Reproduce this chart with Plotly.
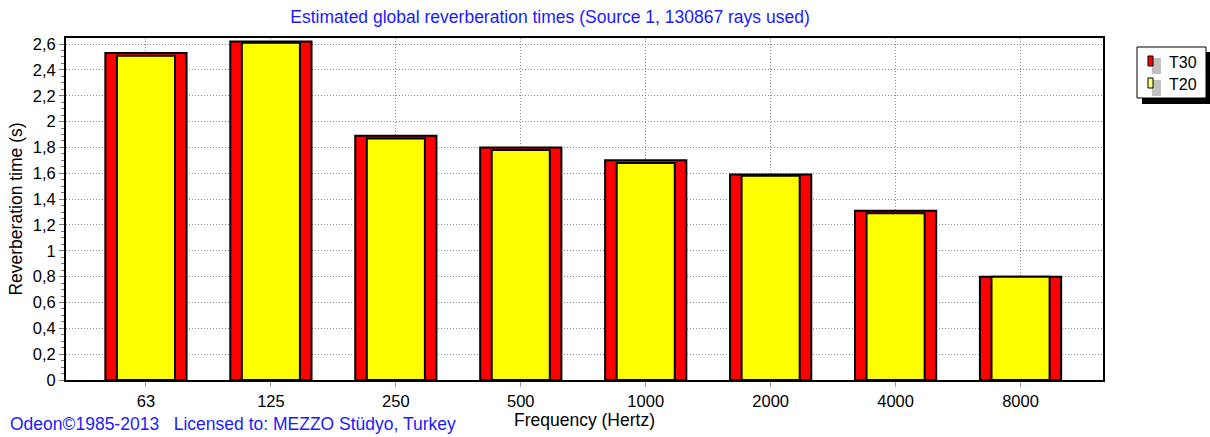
import plotly.graph_objects as go

frequencies = ["63", "125", "250", "500", "1000", "2000", "4000", "8000"]
t30_values = [2.53, 2.62, 1.89, 1.80, 1.70, 1.59, 1.31, 0.80]
t20_values = [2.51, 2.61, 1.87, 1.78, 1.68, 1.58, 1.29, 0.80]
series_names = ["T30", "T20"]
series_colors = ["#ff0000", "#ffff00"]
legend_swatch_colors = ["#ff0000", "#ffff80"]

W, H = 1210, 437
L, R, T, B = 66, 107, 38, 57
PW, PH = W - L - R, H - T - B


def px(x):
    return (x - L) / PW


def py(y):
    return (H - B - y) / PH


fig = go.Figure()
for name, vals, col, wd in zip(series_names, [t30_values, t20_values], series_colors, [0.65, 0.465]):
    fig.add_trace(go.Bar(
        x=frequencies, y=vals, name=name, width=wd,
        marker=dict(color=col, line=dict(color="black", width=2)),
        showlegend=False,
    ))

font = "Liberation Sans, Arial, sans-serif"
grid = dict(showgrid=True, gridcolor="#8a8a8a", griddash="1px,2px", gridwidth=1)

fig.update_layout(
    width=W, height=H,
    margin=dict(l=L, r=R, t=T, b=B, pad=0, autoexpand=False),
    paper_bgcolor="white", plot_bgcolor="white",
    barmode="overlay",
    separators=",.",
    font=dict(family=font, size=17, color="black"),
    title=dict(
        text="Estimated global reverberation times (Source 1, 130867 rays used)",
        x=550 / W, xanchor="center", xref="container",
        y=1 - 17 / H, yanchor="middle", yref="container",
        font=dict(family=font, size=17.5, color="#1a1aff"),
    ),
    xaxis=dict(
        type="category", range=[-0.64, 7.66],
        **grid,
        showline=True, linecolor="black", linewidth=2, mirror=True,
        ticks="outside", ticklen=5, tickcolor="#999999",
        tickfont=dict(size=16.5),
        title=dict(text="Frequency (Hertz)", font=dict(size=17.5), standoff=0),
    ),
    yaxis=dict(
        range=[0, 2.647], dtick=0.2, tick0=0,
        **grid,
        showline=True, linecolor="black", linewidth=2, mirror=True,
        ticks="outside", ticklen=5, tickcolor="#777777",
        minor=dict(dtick=0.05, ticks="outside", ticklen=3, tickcolor="#777777", showgrid=False),
        tickfont=dict(size=16.5),
        title=dict(text="Reverberation time (s)", font=dict(size=17.5), standoff=6),
        zeroline=False,
    ),
    showlegend=False,
)

# manual legend: shadow, box, swatches, labels
fig.add_shape(type="rect", xref="paper", yref="paper",
              x0=px(1142), x1=px(1212), y0=py(104), y1=py(52),
              fillcolor="black", line=dict(width=0), layer="above")
fig.add_shape(type="rect", xref="paper", yref="paper",
              x0=px(1137), x1=px(1206), y0=py(98), y1=py(47),
              fillcolor="white", line=dict(color="black", width=1), layer="above")
for i, (name, col) in enumerate(zip(series_names, legend_swatch_colors)):
    yc = 62 + 22 * i
    fig.add_shape(type="rect", xref="paper", yref="paper",
                  x0=px(1152), x1=px(1161), y0=py(yc + 12), y1=py(yc - 4),
                  fillcolor="#c0c0c0", line=dict(width=0), layer="above")
    fig.add_shape(type="rect", xref="paper", yref="paper",
                  x0=px(1148), x1=px(1153), y0=py(yc + 4), y1=py(yc - 6),
                  fillcolor=col, line=dict(color="black", width=1), layer="above")
    fig.add_annotation(text=name, xref="paper", yref="paper",
                       x=px(1167), xanchor="left", y=py(yc), yanchor="middle",
                       showarrow=False, font=dict(family=font, size=16, color="black"))

fig.add_annotation(
    text="Odeon©1985-2013   Licensed to: MEZZO Stüdyo, Turkey",
    xref="paper", yref="paper",
    x=px(8), xanchor="left",
    y=py(424), yanchor="middle",
    showarrow=False, font=dict(family=font, size=17.5, color="#1a1aff"),
)

fig.write_html("out.html", config={"displayModeBar": False},
               post_script="document.body.style.margin='0px';")
